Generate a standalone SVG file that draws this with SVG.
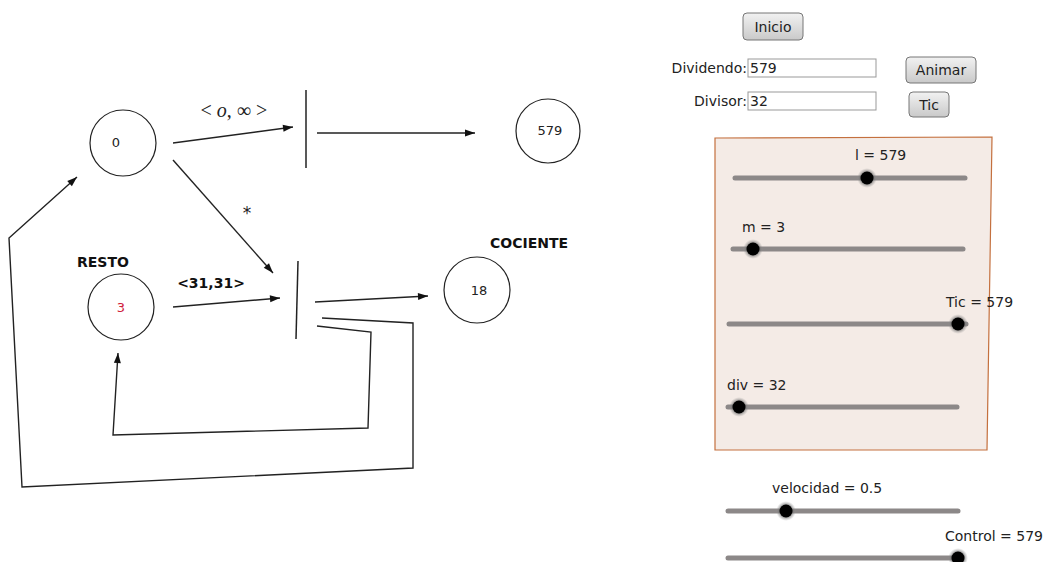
<svg xmlns="http://www.w3.org/2000/svg" width="1045" height="562" viewBox="0 0 1045 562">
  <defs>
    <marker id="arr" viewBox="0 0 10 10" refX="10" refY="5" markerWidth="15" markerHeight="10" markerUnits="userSpaceOnUse" orient="auto">
      <path d="M0,1.5 L10,5 L0,8.5 Z" fill="#111"/>
    </marker>
    <linearGradient id="btn" x1="0" y1="0" x2="0" y2="1">
      <stop offset="0" stop-color="#f2f2f2"/>
      <stop offset="1" stop-color="#c9c9c9"/>
    </linearGradient>
    <radialGradient id="halo">
      <stop offset="0.55" stop-color="#555" stop-opacity="0.8"/>
      <stop offset="1" stop-color="#999" stop-opacity="0"/>
    </radialGradient>
  </defs>
  <style>
    .node { fill: #fff; stroke: #222; stroke-width: 1.2; }
    .val { font-family: "DejaVu Sans", sans-serif; font-size: 13px; fill: #222; text-anchor: middle; }
    .bold { font-family: "DejaVu Sans", sans-serif; font-size: 14px; font-weight: bold; fill: #111; }
    .edge { fill: none; stroke: #222; stroke-width: 1.4; }
    .bar { stroke: #222; stroke-width: 1.5; }
    .ui { font-family: "DejaVu Sans", sans-serif; font-size: 14px; fill: #222; }
    .button { fill: url(#btn); stroke: #777; stroke-width: 1; }
    .field { fill: #fff; stroke: #999; stroke-width: 1; }
    .track { stroke: #8c8888; stroke-width: 5; stroke-linecap: round; }
    .knob { fill: #000; }
  </style>
  <rect width="1045" height="562" fill="#fff"/>

  <!-- connectors -->
  <g id="connectors">
    <line class="edge" x1="173" y1="143" x2="293" y2="127" marker-end="url(#arr)"/>
    <line class="edge" x1="317" y1="133" x2="475" y2="133" marker-end="url(#arr)"/>
    <line class="edge" x1="173" y1="160" x2="273" y2="273" marker-end="url(#arr)"/>
    <line class="edge" x1="173" y1="307" x2="280" y2="298" marker-end="url(#arr)"/>
    <line class="edge" x1="315" y1="302" x2="428" y2="296" marker-end="url(#arr)"/>
    <polyline class="edge" points="317,326 371,332 368,428 113,435 118,353" marker-end="url(#arr)"/>
    <polyline class="edge" points="322,318 413,323 413,468 22,487 9,238 77,177" marker-end="url(#arr)"/>
    <text x="234" y="117" font-family="Liberation Serif, serif" font-size="20" fill="#222" text-anchor="middle">&lt; <tspan font-style="italic">o</tspan>, ∞ &gt;</text>
    <text x="247" y="219" font-family="DejaVu Sans, sans-serif" font-size="17" fill="#222" text-anchor="middle">*</text>
    <text x="211" y="288" class="bold" text-anchor="middle">&lt;31,31&gt;</text>
  </g>

  <!-- transition bars -->
  <g id="bar-top"><line class="bar" x1="306" y1="90" x2="306" y2="168"/></g>
  <g id="bar-bottom"><line class="bar" x1="298" y1="261" x2="296" y2="339"/></g>

  <!-- places -->
  <g id="node-zero">
    <circle class="node" cx="123" cy="143" r="33"/>
    <text class="val" x="116" y="147">0</text>
  </g>
  <g id="node-579">
    <circle class="node" cx="548" cy="131" r="32"/>
    <text class="val" x="550" y="135">579</text>
  </g>
  <g id="node-resto">
    <text class="bold" x="77" y="267">RESTO</text>
    <circle class="node" cx="121" cy="307" r="33"/>
    <text class="val" x="121" y="312" style="fill:#d0203a">3</text>
  </g>
  <g id="node-cociente">
    <text class="bold" x="490" y="248">COCIENTE</text>
    <circle class="node" cx="477" cy="290" r="33"/>
    <text class="val" x="479" y="295">18</text>
  </g>

  <!-- controls -->
  <g id="btn-inicio">
    <rect class="button" x="743" y="13" width="60" height="27" rx="4"/>
    <text class="ui" x="773" y="32" text-anchor="middle">Inicio</text>
  </g>
  <g id="input-dividendo">
    <text class="ui" x="747" y="73" text-anchor="end">Dividendo:</text>
    <rect class="field" x="748" y="59" width="128" height="18"/>
    <text class="ui" x="750" y="73">579</text>
  </g>
  <g id="input-divisor">
    <text class="ui" x="747" y="106" text-anchor="end">Divisor:</text>
    <rect class="field" x="748" y="92" width="128" height="18"/>
    <text class="ui" x="750" y="106">32</text>
  </g>
  <g id="btn-animar">
    <rect class="button" x="906" y="57" width="70" height="26" rx="4"/>
    <text class="ui" x="941" y="75" text-anchor="middle">Animar</text>
  </g>
  <g id="btn-tic">
    <rect class="button" x="909" y="92" width="40" height="25" rx="4"/>
    <text class="ui" x="929" y="110" text-anchor="middle">Tic</text>
  </g>

  <!-- slider panel -->
  <g id="panel">
    <polygon points="715,138 992,137 987,450 715,450" fill="#f4ebe6" stroke="#c4703e" stroke-width="1.2"/>
  </g>
  <g id="slider-l">
    <text class="ui" x="855" y="160">l = 579</text>
    <line class="track" x1="735" y1="178" x2="965" y2="178"/>
    <circle cx="867" cy="178" r="10" fill="url(#halo)"/>
    <circle class="knob" cx="867" cy="178" r="6.5"/>
  </g>
  <g id="slider-m">
    <text class="ui" x="742" y="232">m = 3</text>
    <line class="track" x1="733" y1="249" x2="963" y2="249"/>
    <circle cx="753" cy="249" r="10" fill="url(#halo)"/>
    <circle class="knob" cx="753" cy="249" r="6.5"/>
  </g>
  <g id="slider-tic">
    <text class="ui" x="946" y="307">Tic = 579</text>
    <line class="track" x1="729" y1="324" x2="966" y2="324"/>
    <circle cx="958" cy="324" r="10" fill="url(#halo)"/>
    <circle class="knob" cx="958" cy="324" r="6.5"/>
  </g>
  <g id="slider-div">
    <text class="ui" x="727" y="390">div = 32</text>
    <line class="track" x1="728" y1="407" x2="957" y2="407"/>
    <circle cx="739" cy="407" r="10" fill="url(#halo)"/>
    <circle class="knob" cx="739" cy="407" r="6.5"/>
  </g>

  <!-- speed and control sliders -->
  <g id="slider-velocidad">
    <text class="ui" x="772" y="493">velocidad = 0.5</text>
    <line class="track" x1="728" y1="511" x2="958" y2="511"/>
    <circle cx="786" cy="511" r="10" fill="url(#halo)"/>
    <circle class="knob" cx="786" cy="511" r="6.5"/>
  </g>
  <g id="slider-control">
    <text class="ui" x="945" y="541">Control = 579</text>
    <line class="track" x1="728" y1="558" x2="958" y2="558"/>
    <circle cx="958" cy="558" r="10" fill="url(#halo)"/>
    <circle class="knob" cx="958" cy="558" r="6.5"/>
  </g>
</svg>
